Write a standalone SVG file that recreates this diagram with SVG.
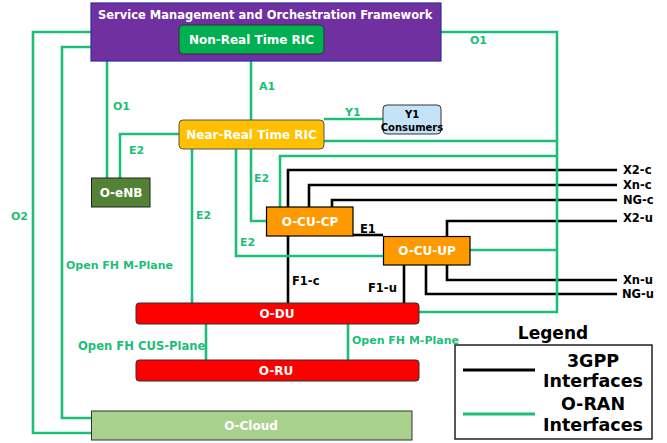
<svg xmlns="http://www.w3.org/2000/svg" width="667" height="443" viewBox="0 0 667 443">
<style>
text{font-family:"DejaVu Sans",Verdana,sans-serif;font-weight:bold;dominant-baseline:central}
.w{fill:#fff;font-size:12px;text-anchor:middle}
.g{fill:#1DBF78;font-size:11px}
.k{fill:#000;font-size:11.5px}
.gl{fill:none;stroke:#1DBF78;stroke-width:2.6}
.bl{fill:none;stroke:#000;stroke-width:2.6}
.lg{fill:#000;font-size:17.5px;text-anchor:middle}
</style>
<rect width="667" height="443" fill="#fff"/>
<g id="connectors">
<g id="black-lines">
<polyline class="bl" points="288,207 288,170 617,170"/>
<polyline class="bl" points="309,207 309,185 617,185"/>
<polyline class="bl" points="332,207 332,200 617,200"/>
<polyline class="bl" points="447,236 447,221 617,221"/>
<polyline class="bl" points="447,265 447,280 617,280"/>
<polyline class="bl" points="426,265 426,294 617,294"/>
<polyline class="bl" points="353,235 383,235"/>
<polyline class="bl" points="288,236 288,303"/>
<polyline class="bl" points="404,265 404,303"/>
</g>
<g id="green-lines">
<polyline class="gl" points="91,32 33,32 33,433 91,433"/>
<polyline class="gl" points="91,47 62,47 62,418 91,418"/>
<polyline class="gl" points="107,61 107,178"/>
<polyline class="gl" points="179,134 120,134 120,178"/>
<polyline class="gl" points="251,54 251,120"/>
<polyline class="gl" points="324,119 383,119"/>
<polyline class="gl" points="441,32 557,32 557,312 419,312"/>
<polyline class="gl" points="324,141 557,141"/>
<polyline class="gl" points="280,207 280,156 557,156"/>
<polyline class="gl" points="470,250 557,250"/>
<polyline class="gl" points="192,149 192,303"/>
<polyline class="gl" points="236,149 236,256 383,256"/>
<polyline class="gl" points="251,149 251,221 266,221"/>
<polyline class="gl" points="206,324 206,360"/>
<polyline class="gl" points="348,324 348,360"/>
</g>
<g id="labels">
<text class="g" x="259" y="86">A1</text>
<text class="g" x="345" y="112">Y1</text>
<text class="g" x="470" y="40">O1</text>
<text class="g" x="113" y="106">O1</text>
<text class="g" x="129" y="150">E2</text>
<text class="g" x="11" y="216">O2</text>
<text class="g" x="66" y="265">Open FH M-Plane</text>
<text class="g" x="196" y="215">E2</text>
<text class="g" x="254" y="178">E2</text>
<text class="g" x="240" y="242">E2</text>
<text class="g" x="78" y="346" style="font-size:11.6px">Open FH CUS-Plane</text>
<text class="g" x="352" y="340">Open FH M-Plane</text>
<text class="k" x="360" y="229">E1</text>
<text class="k" x="292" y="281">F1-c</text>
<text class="k" x="368" y="288">F1-u</text>
<text class="k" x="623" y="170">X2-c</text>
<text class="k" x="623" y="185">Xn-c</text>
<text class="k" x="623" y="200">NG-c</text>
<text class="k" x="623" y="218">X2-u</text>
<text class="k" x="623" y="280">Xn-u</text>
<text class="k" x="622" y="294">NG-u</text>
</g>
</g>
<g id="smo">
<rect x="91" y="3" width="350" height="58" fill="#7030A0" stroke="#2B2FA0" stroke-width="1.2"/>
<text x="98" y="14.5" style="fill:#fff;font-size:11.5px">Service Management and Orchestration Framework</text>
</g>
<g id="non-rt-ric">
<rect x="179" y="25" width="145" height="29" rx="4" fill="#00B050" stroke="#333" stroke-width="1"/>
<text class="w" x="251.5" y="40">Non-Real Time RIC</text>
</g>
<g id="near-rt-ric">
<rect x="179" y="120" width="145" height="29" rx="4" fill="#FFC000" stroke="#555" stroke-width="1"/>
<text class="w" x="251.5" y="134.5">Near-Real Time RIC</text>
</g>
<g id="y1-consumers">
<rect x="383" y="105" width="58" height="29" rx="4" fill="#C5E3F8" stroke="#333" stroke-width="1"/>
<text x="412" y="114" style="fill:#000;font-size:10px;text-anchor:middle">Y1</text>
<text x="412" y="127" style="fill:#000;font-size:10px;text-anchor:middle">Consumers</text>
</g>
<g id="o-enb">
<rect x="91.5" y="178" width="58.5" height="29" fill="#548235" stroke="#222" stroke-width="1"/>
<text class="w" x="121" y="193">O-eNB</text>
</g>
<g id="o-cu-cp">
<rect x="266.5" y="207" width="86.5" height="29" fill="#FF9900" stroke="#000" stroke-width="1.2"/>
<text class="w" x="310" y="222">O-CU-CP</text>
</g>
<g id="o-cu-up">
<rect x="383.5" y="236.5" width="86.5" height="28.5" fill="#FF9900" stroke="#000" stroke-width="1.2"/>
<text class="w" x="427" y="251">O-CU-UP</text>
</g>
<g id="o-du">
<rect x="136" y="303" width="283" height="21" rx="3" fill="#FF0000" stroke="#333" stroke-width="1"/>
<text class="w" x="277" y="313.5">O-DU</text>
</g>
<g id="o-ru">
<rect x="136" y="360" width="283" height="21" rx="3" fill="#FF0000" stroke="#333" stroke-width="1"/>
<text class="w" x="276" y="370.5">O-RU</text>
</g>
<g id="o-cloud">
<rect x="91.5" y="411" width="320.5" height="29" fill="#A9D18E" stroke="#333" stroke-width="1"/>
<text class="w" x="251" y="426">O-Cloud</text>
</g>
<g id="legend">
<text x="553" y="333" style="fill:#000;font-size:17px;text-anchor:middle">Legend</text>
<rect x="455" y="345" width="197" height="94" fill="none" stroke="#222" stroke-width="1.5"/>
<line x1="463" y1="370" x2="535" y2="370" stroke="#000" stroke-width="3"/>
<line x1="463" y1="414" x2="535" y2="414" stroke="#1DBF78" stroke-width="3"/>
<text class="lg" x="593" y="361">3GPP</text>
<text class="lg" x="593" y="381">Interfaces</text>
<text class="lg" x="593" y="404">O-RAN</text>
<text class="lg" x="593" y="425">Interfaces</text>
</g>
</svg>
